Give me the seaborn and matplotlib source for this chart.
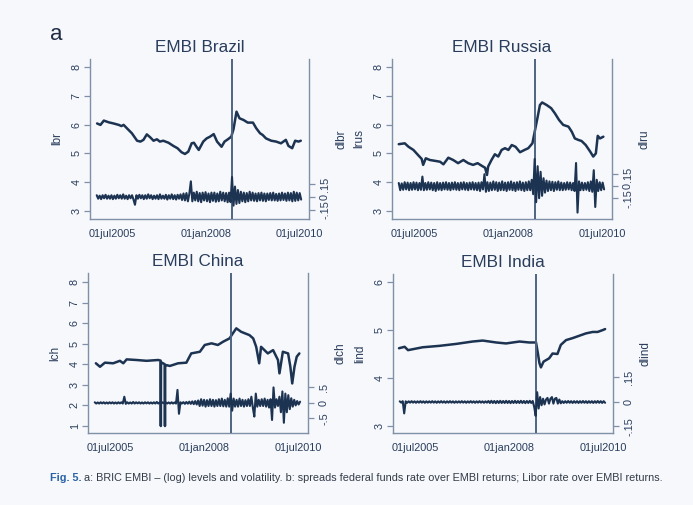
import numpy as np
import pandas as pd
import matplotlib
matplotlib.use("Agg")
import matplotlib.pyplot as plt
import seaborn as sns
from matplotlib import font_manager

# ---------------- data ----------------
xtick_pos = [2005.5, 2008.0, 2010.5]
xtick_labels = ["01jul2005", "01jan2008", "01jul2010"]
crisis_date = 2008.71

# Brazil level (log EMBI)
br_t = [2005.09, 2005.18, 2005.27, 2005.40, 2005.53, 2005.67, 2005.74, 2005.80, 2005.89, 2006.02,
        2006.16, 2006.25, 2006.33, 2006.42, 2006.51, 2006.60, 2006.69, 2006.77, 2006.86, 2007.00,
        2007.13, 2007.24, 2007.35, 2007.44, 2007.53, 2007.62, 2007.68, 2007.75, 2007.81, 2007.93,
        2008.02, 2008.11, 2008.21, 2008.30, 2008.42, 2008.50, 2008.59, 2008.68, 2008.74, 2008.82,
        2008.90, 2009.01, 2009.12, 2009.26, 2009.35, 2009.45, 2009.52, 2009.61, 2009.75, 2009.88,
        2010.01, 2010.14, 2010.21, 2010.31, 2010.39, 2010.48, 2010.54]
br_lvl = [6.04, 5.99, 6.14, 6.08, 6.04, 5.99, 5.95, 5.99, 5.87, 5.70,
          5.44, 5.41, 5.47, 5.66, 5.56, 5.44, 5.49, 5.41, 5.44, 5.37,
          5.26, 5.18, 5.04, 4.98, 5.06, 5.35, 5.37, 5.23, 5.12, 5.41,
          5.52, 5.58, 5.67, 5.41, 5.23, 5.41, 5.49, 5.58, 5.84, 6.45,
          6.22, 6.16, 6.07, 6.07, 5.87, 5.70, 5.64, 5.52, 5.44, 5.41,
          5.35, 5.47, 5.26, 5.18, 5.44, 5.41, 5.44]
br_dif = [.02, -.02, .015, -.025, .02, -.015, .025, -.02, .015, -.02,
          .02, -.025, .015, -.02, .025, -.015, .02, -.02, .03, -.02,
          .015, -.025, .02, -.015, .02, -.03, -.09, .02, -.02, .025,
          -.015, .02, -.025, .02, -.02, .03, -.015, .02, -.025, .015,
          -.02, .02, -.025, .03, -.02, .015, -.02, .025, -.03, .02,
          -.02, .03, -.025, .02, -.03, .025, -.02, .03, -.035, .04,
          -.04, .045, -.05, .04, .18, -.05, .05, -.04, .06, -.05,
          .045, -.06, .05, -.04, .055, -.05, .04, -.06, .05, -.045,
          .05, -.055, .04, -.05, .06, -.04, .05, -.05, .045, -.06,
          .05, -.06, .23, -.10, .12, -.08, .08, -.07, .06, -.05,
          .05, -.06, .045, -.05, .06, -.04, .05, -.045, .04, -.05,
          .045, -.04, .05, -.045, .04, -.05, .04, -.035, .045, -.04,
          .05, -.04, .035, -.045, .04, -.04, .05, -.035, .04, -.045,
          .05, -.04, .045, -.05, .06, -.045, .05, -.04, .045, -.03]

# Russia level
ru_t = [2005.08, 2005.24, 2005.34, 2005.47, 2005.61, 2005.69, 2005.73, 2005.80, 2005.91, 2006.05,
        2006.18, 2006.27, 2006.40, 2006.53, 2006.66, 2006.80, 2006.93, 2007.06, 2007.18, 2007.29,
        2007.38, 2007.43, 2007.46, 2007.55, 2007.64, 2007.73, 2007.82, 2007.91, 2008.00, 2008.09,
        2008.19, 2008.31, 2008.43, 2008.53, 2008.64, 2008.71, 2008.78, 2008.84, 2008.90, 2009.02,
        2009.14, 2009.24, 2009.35, 2009.46, 2009.60, 2009.69, 2009.77, 2009.86, 2009.95, 2010.06,
        2010.18, 2010.26, 2010.33, 2010.38, 2010.44, 2010.53]
ru_lvl = [5.32, 5.35, 5.23, 5.12, 4.92, 4.81, 4.60, 4.83, 4.77, 4.74,
          4.71, 4.62, 4.85, 4.77, 4.66, 4.77, 4.66, 4.60, 4.66, 4.57,
          4.50, 4.25, 4.54, 4.77, 4.97, 4.89, 5.12, 5.18, 5.12, 5.29,
          5.23, 5.04, 5.12, 5.18, 5.35, 5.81, 6.27, 6.68, 6.77, 6.68,
          6.57, 6.39, 6.16, 5.99, 5.93, 5.75, 5.52, 5.47, 5.43, 5.29,
          5.06, 4.89, 5.00, 5.61, 5.52, 5.58]
ru_dif = [.04, -.05, .035, -.045, .05, -.04, .045, -.05, .04, -.045,
          .05, -.04, .045, -.05, .04, -.045, .12, -.05, .04, -.045,
          .05, -.04, .045, -.05, .04, -.06, .05, -.045, .04, -.05,
          .045, -.04, .05, -.045, .04, -.05, .045, -.04, .05, -.045,
          .04, -.05, .045, -.04, .05, -.045, .04, -.05, .045, -.04,
          .05, -.045, .04, -.05, .045, -.06, .05, -.04, .15, -.07,
          .05, -.06, .045, -.05, .06, -.045, .05, -.06, .045, -.05,
          .06, -.05, .045, -.06, .05, -.045, .06, -.05, .045, -.06,
          .05, -.045, .06, -.05, .045, -.06, .05, -.05, .06, -.05,
          .08, -.10, .34, -.20, .25, -.15, .18, -.12, .10, -.08,
          .07, -.06, .06, -.05, .055, -.06, .05, -.045, .06, -.05,
          .045, -.05, .04, -.045, .05, -.04, .045, -.05, .04, -.06,
          .29, -.33, .06, -.05, .045, -.05, .04, -.045, .05, -.06,
          .06, -.07, .20, -.26, .08, -.06, .05, -.05, .045, -.04]

# China level
ch_t = [2005.11, 2005.22, 2005.35, 2005.57, 2005.75, 2005.84, 2005.93, 2006.19, 2006.46, 2006.77,
        2006.835, 2006.84, 2006.845, 2006.90, 2006.945, 2006.95, 2006.955, 2006.99, 2007.08, 2007.30,
        2007.52, 2007.65, 2007.88, 2008.01, 2008.19, 2008.36, 2008.50, 2008.67, 2008.76, 2008.85,
        2008.98, 2009.20, 2009.30, 2009.38, 2009.46, 2009.51, 2009.69, 2009.83, 2009.96, 2010.00,
        2010.09, 2010.23, 2010.29, 2010.34, 2010.40, 2010.46, 2010.53]
ch_lvl = [4.05, 3.88, 4.08, 4.05, 4.17, 4.05, 4.24, 4.21, 4.17, 4.21,
          4.18, 1.00, 4.10, 4.05, 4.00, 1.00, 3.95, 3.96, 3.92, 4.05,
          4.08, 4.53, 4.61, 4.94, 5.02, 4.94, 5.10, 5.26, 5.51, 5.75,
          5.58, 5.42, 5.26, 4.85, 4.05, 4.85, 4.53, 4.69, 4.21, 3.56,
          4.61, 4.53, 3.88, 3.07, 3.88, 4.37, 4.53]
ch_dif = [.02, -.02, .015, -.02, .02, -.015, .02, -.02, .015, -.02,
          .02, -.015, .02, -.02, .015, -.02, .02, -.015, .02, -.02,
          .2, -.03, .02, -.02, .015, -.02, .03, -.02, .02, -.015,
          .02, -.02, .015, -.02, .02, -.015, .02, -.02, .015, -.02,
          .02, -.02, .03, -.02, .015, -.02, .02, -.015, .02, -.02,
          .015, -.02, .02, -.02, .015, -.02, .42, -.35, .02, -.02,
          .025, -.03, .03, -.025, .04, -.03, .05, -.04, .06, -.05,
          .08, -.1, .12, -.09, .1, -.12, .09, -.1, .12, -.1,
          .1, -.12, .09, -.1, .12, -.1, .14, -.11, .1, -.12,
          .15, -.12, .3, -.25, .14, -.12, .1, -.12, .14, -.1,
          .1, -.12, .09, -.1, .12, -.1, .2, -.15, -.44, .3,
          -.12, .1, -.1, .12, -.1, .14, -.12, .1, -.15, .12,
          -.55, .5, -.15, .12, -.1, .2, -.3, .37, -.64, .3,
          -.3, .25, -.2, .15, -.12, .1, -.08, .06, -.05, .04]

# India level
in_t = [2005.06, 2005.21, 2005.30, 2005.43, 2005.69, 2006.14, 2006.58, 2007.02, 2007.29, 2007.65,
        2007.91, 2008.27, 2008.53, 2008.71, 2008.76, 2008.80, 2008.84, 2008.91, 2009.06, 2009.15,
        2009.28, 2009.37, 2009.51, 2009.68, 2009.86, 2010.04, 2010.22, 2010.35, 2010.49, 2010.55]
in_lvl = [4.62, 4.65, 4.58, 4.60, 4.64, 4.67, 4.71, 4.76, 4.78, 4.74,
          4.72, 4.76, 4.74, 4.74, 4.51, 4.31, 4.22, 4.34, 4.41, 4.51,
          4.50, 4.69, 4.79, 4.83, 4.88, 4.93, 4.96, 4.96, 5.00, 5.02]
in_dif = [.004, -.004, .005, -.07, .004, -.005, .004, -.004, .005, -.004,
          .004, -.005, .004, -.004, .005, -.004, .004, -.005, .004, -.004,
          .004, -.004, .005, -.004, .004, -.005, .004, -.004, .005, -.004,
          .004, -.005, .004, -.004, .005, -.004, .004, -.005, .004, -.004,
          .004, -.004, .005, -.004, .004, -.005, .004, -.004, .005, -.004,
          .004, -.005, .004, -.004, .005, -.004, .004, -.005, .004, -.004,
          .006, -.006, .007, -.006, .006, -.007, .006, -.006, .007, -.006,
          .006, -.006, .007, -.006, .006, -.007, .006, -.006, .007, -.006,
          .006, -.006, .007, -.006, .006, -.007, .006, -.006, .007, -.006,
          .006, -.03, -.085, .06, -.04, .03, -.02, .02, -.015, .015,
          .025, -.01, .02, .03, -.01, .02, .025, -.01, .015, -.008,
          .005, -.006, .005, -.005, .006, -.005, .005, -.006, .005, -.005,
          .005, -.006, .005, -.005, .006, -.005, .005, -.006, .005, -.005,
          .005, -.006, .005, -.005, .006, -.005, .005, -.006, .005, -.005]
dif_start, dif_end = 2005.08, 2010.55

# ---------------- styling ----------------
sns.set_theme(style="white")
avail = {f.name for f in font_manager.fontManager.ttflist}
base_font = "Liberation Sans" if "Liberation Sans" in avail else "DejaVu Sans"
cap_font = "Liberation Sans Narrow" if "Liberation Sans Narrow" in avail else base_font
plt.rcParams["font.family"] = [base_font, "DejaVu Sans"]

BG = "#f6f8fb"
LINE = "#1d3352"
SPINE = "#7f90a8"
TXT = "#2a3d5c"
VLINE = "#4e6482"

fig = plt.figure(figsize=(6.93, 5.05), dpi=100, facecolor=BG)
W, H = 693, 505


def px_axes(left, right, top, bottom):
    return [left / W, 1 - bottom / H, (right - left) / W, (bottom - top) / H]


panels = [
    dict(title="EMBI Brazil", box=(90, 309, 59, 219), t=br_t, lvl=br_lvl, dif=br_dif,
         lname="lbr", rname="dlbr", lylim=(2.72, 8.28), lticks=[3, 4, 5, 6, 7, 8],
         rylim=(-0.254, 1.59), rticks=[-0.15, 0, 0.15], rlabels=["-.15", "0", ".15"]),
    dict(title="EMBI Russia", box=(392, 612, 59, 219), t=ru_t, lvl=ru_lvl, dif=ru_dif,
         lname="lrus", rname="dlru", lylim=(2.72, 8.28), lticks=[3, 4, 5, 6, 7, 8],
         rylim=(-0.41, 1.59), rticks=[-0.15, 0, 0.15], rlabels=["-.15", "0", ".15"]),
    dict(title="EMBI China", box=(88, 308, 273, 433), t=ch_t, lvl=ch_lvl, dif=ch_dif,
         lname="lch", rname="dlch", lylim=(0.66, 8.44), lticks=[1, 2, 3, 4, 5, 6, 7, 8],
         rylim=(-0.97, 4.19), rticks=[-0.5, 0, 0.5], rlabels=["-.5", "0", ".5"]),
    dict(title="EMBI India", box=(393, 613, 274, 433), t=in_t, lvl=in_lvl, dif=in_dif,
         lname="lind", rname="dlind", lylim=(2.85, 6.17), lticks=[3, 4, 5, 6],
         rylim=(-0.19, 0.784), rticks=[-0.15, 0, 0.15], rlabels=["-.15", "0", ".15"]),
]

for p in panels:
    ax = fig.add_axes(px_axes(*p["box"]))
    ax.set_facecolor("none")
    ax2 = ax.twinx()
    ax2.set_facecolor("none")

    sns.lineplot(x=p["t"], y=p["lvl"], ax=ax, color=LINE, linewidth=1.8,
                 sort=False, estimator=None)
    dx = np.linspace(dif_start, dif_end, len(p["dif"]))
    sns.lineplot(x=dx, y=p["dif"], ax=ax2, color=LINE, linewidth=1.5,
                 sort=False, estimator=None)
    ax.axvline(crisis_date, color=VLINE, linewidth=1.4, zorder=5)

    ax.set_xlim(2004.9, 2010.76)
    ax.set_ylim(*p["lylim"])
    ax2.set_ylim(*p["rylim"])
    ax.set_xticks(xtick_pos, labels=xtick_labels)
    ax.set_yticks(p["lticks"], labels=[str(v) for v in p["lticks"]])
    ax2.set_yticks(p["rticks"], labels=p["rlabels"])

    for a in (ax, ax2):
        a.spines["top"].set_visible(False)
        for s in a.spines.values():
            s.set_color(SPINE)
            s.set_linewidth(1.0)
        a.tick_params(colors=SPINE, labelcolor=TXT, labelsize=7.8, length=4, width=0.9,
                      direction="out")
    ax.spines["right"].set_visible(False)
    ax2.spines["left"].set_visible(False)
    ax2.spines["bottom"].set_visible(False)
    ax.tick_params(axis="y", labelrotation=90, pad=2)
    ax2.tick_params(axis="y", labelrotation=90, pad=4)
    for lab in ax.get_yticklabels():
        lab.set_va("center")
    for lab in ax2.get_yticklabels():
        lab.set_va("center")
    ax.tick_params(axis="x", pad=3)

    ax.set_xlabel("")
    ax.set_ylabel(p["lname"], fontsize=8.5, color=TXT, labelpad=6)
    ax2.set_ylabel(p["rname"], fontsize=8.5, color=TXT, labelpad=4)
    ax.set_title(p["title"], fontsize=12.3, color=TXT, pad=5)

fig.text(56 / W, 1 - 34 / H, "a", fontsize=16, color="#1f2d45", ha="center", va="center")

cap_y = 1 - 478 / H
t1 = fig.text(50 / W, cap_y, "Fig. 5.", fontsize=7.8, fontweight="bold", color="#2a62a6",
              va="center", family=[cap_font, "DejaVu Sans"])
fig.canvas.draw()
bb = t1.get_window_extent()
fig.text((bb.x1 + 3) / W, cap_y,
         "a: BRIC EMBI \u2013 (log) levels and volatility. b: spreads federal funds rate over "
         "EMBI returns; Libor rate over EMBI returns.",
         fontsize=7.8, color="#333b48", va="center", family=[cap_font, "DejaVu Sans"])

fig.savefig("out.png", dpi=100, facecolor=BG)
